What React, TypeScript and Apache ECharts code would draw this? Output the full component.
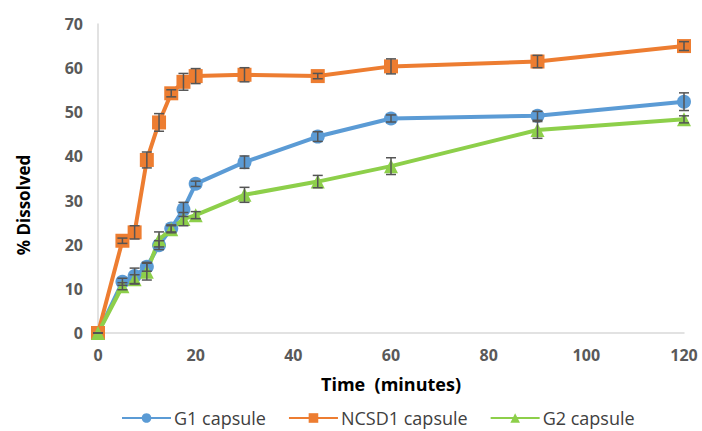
import React, { useEffect, useRef } from "react";
import * as echarts from "echarts";

const times = [0, 5, 7.5, 10, 12.5, 15, 17.5, 20, 30, 45, 60, 90, 120];
const g1 = [0, 11.6, 12.9, 15.0, 19.9, 23.7, 28.0, 33.8, 38.7, 44.5, 48.6, 49.2, 52.4];
const g1Err = [0, 0.8, 1.8, 1.0, 1.0, 0.8, 1.6, 0.6, 1.4, 1.1, 0.8, 1.0, 2.0];
const ncsd1 = [0, 20.9, 22.8, 39.2, 47.7, 54.3, 56.9, 58.2, 58.5, 58.2, 60.4, 61.5, 65.0];
const ncsd1Err = [0, 0.6, 1.5, 1.8, 2.0, 0.8, 1.9, 1.7, 1.6, 0.6, 1.7, 1.4, 1.0];
const g2 = [0, 10.6, 12.2, 13.9, 21.2, 23.5, 25.8, 26.7, 31.3, 34.3, 37.8, 46.0, 48.4];
const g2Err = [0, 0.8, 1.0, 1.9, 1.7, 0.8, 1.5, 0.8, 1.7, 1.4, 1.9, 1.9, 0.8];
const seriesNames = ["G1 capsule", "NCSD1 capsule", "G2 capsule"];
const colors = ["#5B9BD5", "#ED7D31", "#8DCF4A"];
const xTicks = { min: 0, max: 120, interval: 20 };
const yTicks = { min: 0, max: 70, interval: 10 };

const FONT = "'Open Sans', sans-serif";

function errSeries(vals: number[], errs: number[]) {
  return {
    type: "custom",
    z: 5,
    silent: true,
    data: times.map((t, i) => [t, vals[i] - errs[i], vals[i] + errs[i]]),
    renderItem: (params: any, api: any) => {
      const x = api.value(0);
      const lo = api.coord([x, api.value(1)]);
      const hi = api.coord([x, api.value(2)]);
      const w = 5;
      const st = { stroke: "#555555", lineWidth: 1.5 };
      return {
        type: "group",
        children: [
          { type: "line", shape: { x1: lo[0], y1: lo[1], x2: hi[0], y2: hi[1] }, style: st },
          { type: "line", shape: { x1: lo[0] - w, y1: lo[1], x2: lo[0] + w, y2: lo[1] }, style: st },
          { type: "line", shape: { x1: hi[0] - w, y1: hi[1], x2: hi[0] + w, y2: hi[1] }, style: st },
        ],
      };
    },
  };
}

function lineSeries(name: string, vals: number[], color: string, symbol: string, size: number) {
  return {
    name,
    type: "line",
    data: times.map((t, i) => [t, vals[i]]),
    symbol,
    symbolSize: size,
    showAllSymbol: true,
    lineStyle: { color, width: 4 },
    itemStyle: { color },
    z: 3,
  };
}

export default function App() {
  const ref = useRef<HTMLDivElement>(null);
  useEffect(() => {
    if (!ref.current) return;
    const chart = echarts.init(ref.current, null, { renderer: "svg" });
    chart.setOption({
      animation: false,
      backgroundColor: "#ffffff",
      textStyle: { fontFamily: FONT },
      grid: { left: 98, right: 18, top: 24, bottom: 98 },
      legend: {
        top: 404,
        left: 116,
        data: seriesNames,
        itemWidth: 49,
        itemHeight: 12,
        itemGap: 22,
        textStyle: { fontSize: 18, color: "#404040", fontFamily: FONT, padding: [0, 0, 0, -2] },
      },
      xAxis: {
        type: "value",
        min: xTicks.min,
        max: xTicks.max,
        interval: xTicks.interval,
        axisLine: { show: true, lineStyle: { color: "#D9D9D9", width: 1.5 } },
        axisTick: { show: false },
        splitLine: { show: false },
        axisLabel: { color: "#595959", fontSize: 16, fontWeight: "bold", margin: 14, fontFamily: FONT },
        name: "Time  (minutes)",
        nameLocation: "middle",
        nameGap: 42,
        nameTextStyle: { color: "#000000", fontSize: 18, fontWeight: "bold", fontFamily: FONT },
      },
      yAxis: {
        type: "value",
        min: yTicks.min,
        max: yTicks.max,
        interval: yTicks.interval,
        axisLine: { show: true, lineStyle: { color: "#D9D9D9", width: 1.5 } },
        axisTick: { show: false },
        splitLine: { show: false },
        axisLabel: { color: "#595959", fontSize: 16, fontWeight: "bold", margin: 15, fontFamily: FONT },
      },
      graphic: [
        {
          type: "text",
          x: 23,
          y: 205,
          rotation: Math.PI / 2,
          style: {
            text: "% Dissolved",
            fontSize: 17,
            fontWeight: "bold",
            fill: "#000000",
            fontFamily: FONT,
            align: "center",
            verticalAlign: "middle",
          },
        },
      ],
      series: [
        lineSeries(seriesNames[0], g1, colors[0], "circle", 14),
        lineSeries(seriesNames[1], ncsd1, colors[1], "rect", 14),
        lineSeries(seriesNames[2], g2, colors[2], "triangle", 14),
        errSeries(g1, g1Err),
        errSeries(ncsd1, ncsd1Err),
        errSeries(g2, g2Err),
      ],
    });
    return () => chart.dispose();
  }, []);
  return (
    <div
      ref={ref}
      style={{ position: "fixed", left: 0, top: 0, width: 702, height: 431 }}
    />
  );
}
